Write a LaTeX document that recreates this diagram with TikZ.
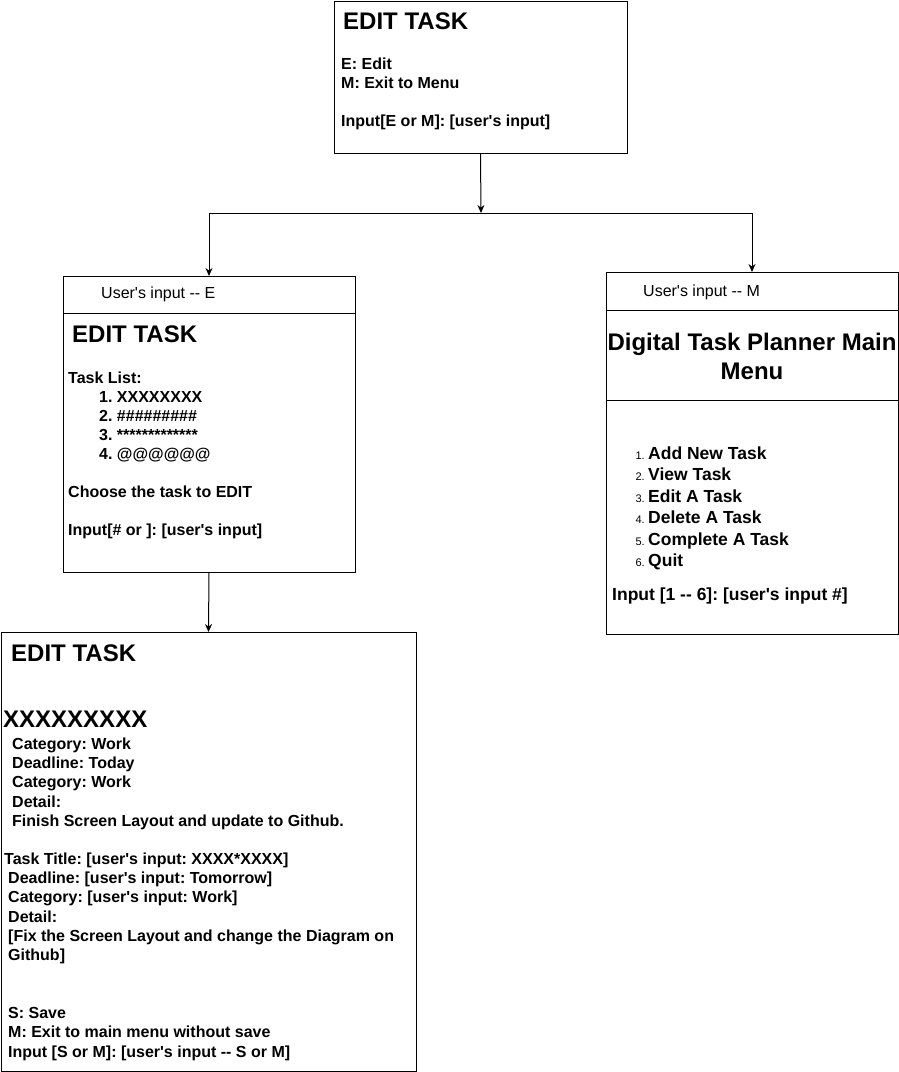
\documentclass[tikz,border=0pt]{standalone}
\usepackage{fontspec}
\setmainfont{Liberation Sans}[Ligatures=TeXOff]
\usetikzlibrary{arrows.meta}
\frenchspacing
\begin{document}
\begin{tikzpicture}[x=1pt,y=-1pt,
  box/.style={draw=black, line width=1pt, anchor=north west, inner sep=0pt, outer sep=0pt},
  body/.style={anchor=base west, inner sep=0pt, font=\bfseries\fontsize{16}{19}\selectfont},
  plain/.style={anchor=base west, inner sep=0pt, font=\fontsize{16}{19}\selectfont},
  title/.style={anchor=base west, inner sep=0pt, font=\bfseries\fontsize{24}{29}\selectfont},
  ctitle/.style={anchor=base, inner sep=0pt, font=\bfseries\fontsize{24}{29}\selectfont},
  item/.style={anchor=base west, inner sep=0pt, font=\bfseries\fontsize{17.5}{21}\selectfont},
  num/.style={anchor=base east, inner sep=0pt, font=\fontsize{11}{13}\selectfont},
  arr/.style={-{Stealth[length=8pt,width=7pt]}, line width=1pt},
  conn/.style={line width=1pt}
]
\useasboundingbox (0,0) rectangle (899,1072);

% boxes
\node[box, minimum width=293pt, minimum height=152pt] (top) at (334,1) {};
\node[box, minimum width=292pt, minimum height=296pt] (left) at (63,276) {};
\node[box, minimum width=292pt, minimum height=362pt] (right) at (606,272) {};
\node[box, minimum width=415pt, minimum height=439pt] (bottom) at (1,632) {};

% dividers
\coordinate (d1) at (0,313);
\coordinate (d2) at (0,310);
\coordinate (d3) at (0,400);
\draw[conn] (left.west |- d1) -- (left.east |- d1);
\draw[conn] (right.west |- d2) -- (right.east |- d2);
\draw[conn] (right.west |- d3) -- (right.east |- d3);

% connectors
\coordinate (j) at (481,213);
\coordinate (jl) at (left.north |- j);
\coordinate (jr) at (right.north |- j);
\draw[arr] (top.south) -- (j);
\draw[conn] (jl) -- (jr);
\draw[arr] (jl) -- (left.north);
\draw[arr] (jr) -- (right.north);
\draw[arr] (left.south) -- (bottom.north);

% top box text
\node[title] (a1) at (343,29.5) {EDIT TASK};
\node[body] (a2) at (341,69.5) {E: Edit};
\node[body] (a3) at (341,88.5) {M: Exit to Menu};
\node[body] (a4) at (341,126.5) {Input[E or M]: [user's input]};

% left box text
\node[plain] (b1) at (101,298) {User's input -- E};
\node[title] (b2) at (72,342) {EDIT TASK};
\node[body] (b3) at (68,383) {Task List:};
\node[body] (b4) at (99,402) {1. XXXXXXXX};
\node[body] (b5) at (99,421) {2. \#\#\#\#\#\#\#\#\#};
\node[body] (b6) at (99,440) {3. *************};
\node[body] (b7) at (99,459) {4. @@@@@@};
\node[body] (b8) at (68,497) {Choose the task to EDIT};
\node[body] (b9) at (68,535) {Input[\# or ]: [user's input]};

% right box text
\node[plain] (c1) at (643,296) {User's input -- M};
\node[ctitle] (c2) at (752,350) {Digital Task Planner Main};
\node[ctitle] (c3) at (752,379) {Menu};
\node[num] (n1) at (645,459.5) {1.};
\node[item] (i1) at (648,459.5) {Add New Task};
\node[num] (n2) at (645,480.9) {2.};
\node[item] (i2) at (648,480.9) {View Task};
\node[num] (n3) at (645,502.3) {3.};
\node[item] (i3) at (648,502.3) {Edit A Task};
\node[num] (n4) at (645,523.7) {4.};
\node[item] (i4) at (648,523.7) {Delete A Task};
\node[num] (n5) at (645,545.1) {5.};
\node[item] (i5) at (648,545.1) {Complete A Task};
\node[num] (n6) at (645,566.5) {6.};
\node[item] (i6) at (648,566.5) {Quit};
\node[item] (c4) at (612,600) {Input [1 -- 6]: [user's input \#]};

% bottom box text
\node[title] (e1) at (11,661) {EDIT TASK};
\node[title] (e2) at (3,727) {XXXXXXXXX};
\node[body] (e3) at (12,749) {Category: Work};
\node[body] (e4) at (12,768) {Deadline: Today};
\node[body] (e5) at (12,787) {Category: Work};
\node[body] (e6) at (12,807) {Detail:};
\node[body] (e7) at (12,826) {Finish Screen Layout and update to Github.};
\node[body] (e8) at (4,864) {Task Title: [user's input: XXXX*XXXX]};
\node[body] (e9) at (8,883) {Deadline: [user's input: Tomorrow]};
\node[body] (e10) at (8,902) {Category: [user's input: Work]};
\node[body] (e11) at (8,922) {Detail:};
\node[body] (e12) at (8,941) {[Fix the Screen Layout and change the Diagram on};
\node[body] (e13) at (8,960) {Github]};
\node[body] (e14) at (8,1018) {S: Save};
\node[body] (e15) at (8,1037) {M: Exit to main menu without save};
\node[body] (e16) at (8,1057) {Input [S or M]: [user's input -- S or M]};
\end{tikzpicture}
\end{document}
